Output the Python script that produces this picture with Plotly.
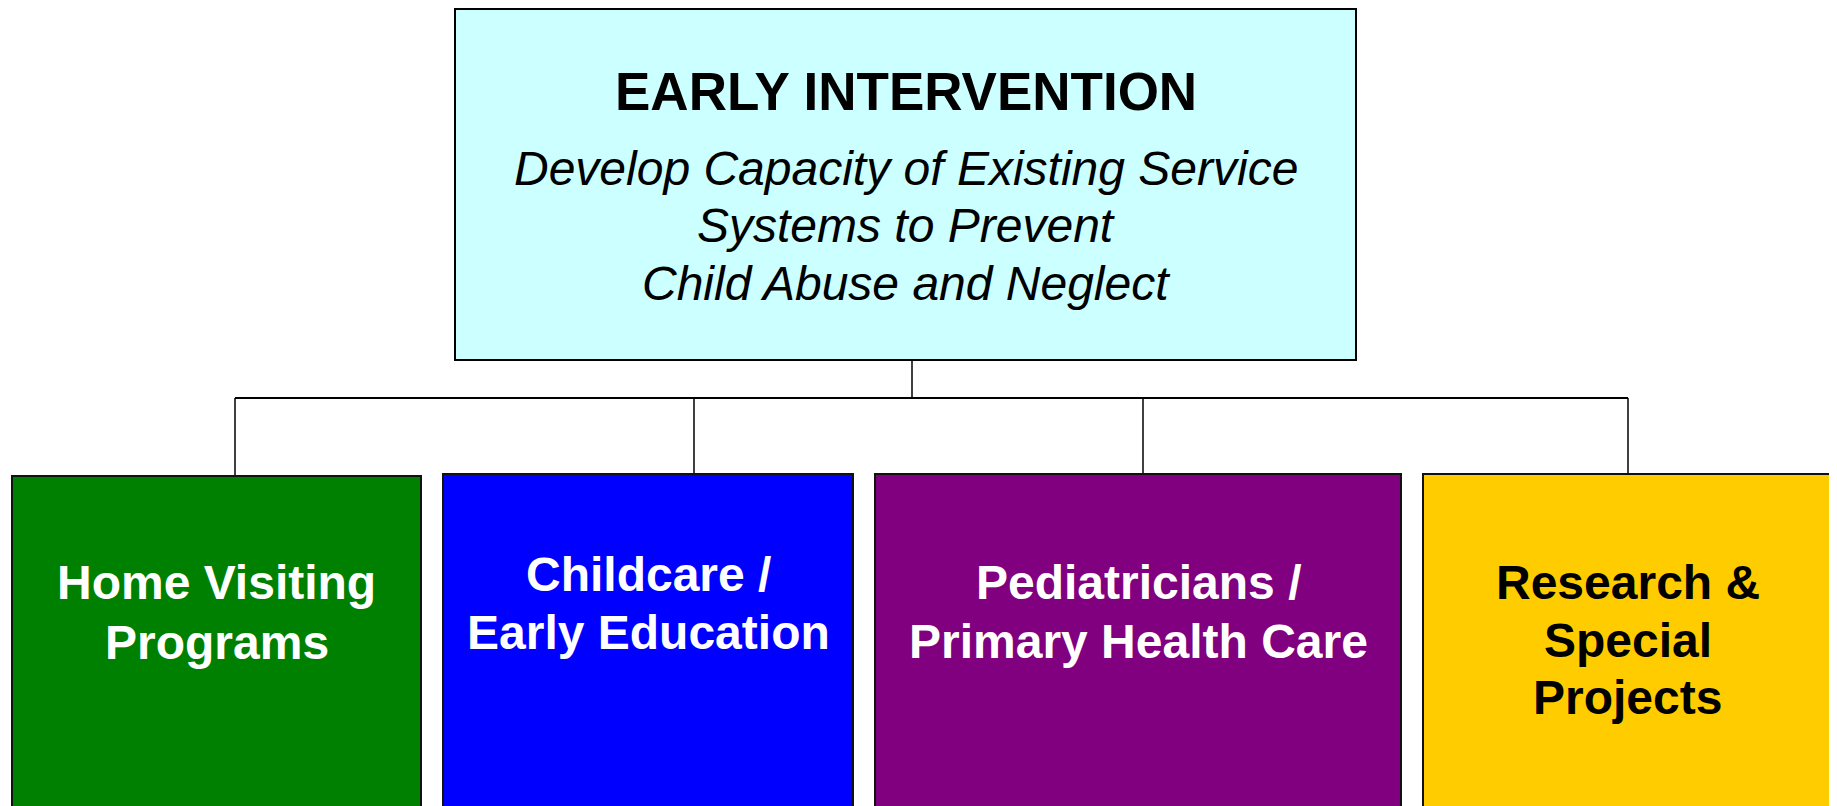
import plotly.graph_objects as go

# ---- content ----
root_title = "EARLY INTERVENTION"
root_subtitle = ["Develop Capacity of Existing Service", "Systems to Prevent", "Child Abuse and Neglect"]
root_fill = "#CCFFFF"

child_labels = [
    ["Home Visiting", "Programs"],
    ["Childcare /", "Early Education"],
    ["Pediatricians /", "Primary Health Care"],
    ["Research &", "Special", "Projects"],
]
child_fills = ["#008000", "#0000FF", "#800080", "#FFCC00"]
child_text_colors = ["#FFFFFF", "#FFFFFF", "#FFFFFF", "#000000"]

# ---- layout geometry (page pixels) ----
W, H = 1837, 806
PAGE_MARGIN = 8   # default body margin of the html page
root_box = (455, 9, 1356, 360)          # x0, y0, x1, y1
root_drop_x = 912
root_title_y = 91
root_sub_y = [168, 225, 283]
bus_y = 398
child_boxes = [
    (12, 476, 421, 830),
    (443, 474, 853, 830),
    (875, 474, 1401, 830),
    (1423, 474, 1832, 830),
]
child_drop_x = [235, 694, 1143, 1628]
child_text_y = [
    [582, 642],
    [574, 632],
    [582, 641],
    [582, 640, 697],
]

FONT = "Liberation Sans, Arial, Helvetica, sans-serif"

fig = go.Figure()
shapes = []
annotations = []

# root box
shapes.append(dict(type="rect", x0=root_box[0], y0=root_box[1], x1=root_box[2], y1=root_box[3],
                   fillcolor=root_fill, line=dict(color="#000000", width=2), layer="below"))
annotations.append(dict(x=(root_box[0] + root_box[2]) / 2, y=root_title_y, text="<b>" + root_title + "</b>",
                        showarrow=False, xanchor="center", yanchor="middle",
                        font=dict(family=FONT, size=53, color="#000000")))
for line, yy in zip(root_subtitle, root_sub_y):
    annotations.append(dict(x=(root_box[0] + root_box[2]) / 2, y=yy, text="<i>" + line + "</i>",
                            showarrow=False, xanchor="center", yanchor="middle",
                            font=dict(family=FONT, size=48, color="#000000")))

# connectors
shapes.append(dict(type="line", x0=root_drop_x, y0=root_box[3], x1=root_drop_x, y1=bus_y,
                   line=dict(color="#000000", width=1.5)))
shapes.append(dict(type="line", x0=min(child_drop_x), y0=bus_y, x1=max(child_drop_x), y1=bus_y,
                   line=dict(color="#000000", width=2)))
for cx, box in zip(child_drop_x, child_boxes):
    shapes.append(dict(type="line", x0=cx, y0=bus_y, x1=cx, y1=box[1],
                       line=dict(color="#000000", width=1.5)))

# child boxes
for box, fill, labels, tcol, ys in zip(child_boxes, child_fills, child_labels, child_text_colors, child_text_y):
    shapes.append(dict(type="rect", x0=box[0], y0=box[1], x1=box[2], y1=box[3],
                       fillcolor=fill, line=dict(color="#111111", width=2)))
    for lab, yy in zip(labels, ys):
        annotations.append(dict(x=(box[0] + box[2]) / 2, y=yy, text="<b>" + lab + "</b>",
                                showarrow=False, xanchor="center", yanchor="middle",
                                font=dict(family=FONT, size=48, color=tcol)))

fig.update_layout(
    width=W - PAGE_MARGIN, height=H - PAGE_MARGIN,
    margin=dict(l=0, r=0, t=0, b=0),
    paper_bgcolor="#FFFFFF", plot_bgcolor="#FFFFFF",
    xaxis=dict(range=[PAGE_MARGIN, W], visible=False, fixedrange=True),
    yaxis=dict(range=[H, PAGE_MARGIN], visible=False, fixedrange=True),
    shapes=shapes, annotations=annotations,
    showlegend=False,
)

fig.write_html("out.html", config={"displayModeBar": False})
